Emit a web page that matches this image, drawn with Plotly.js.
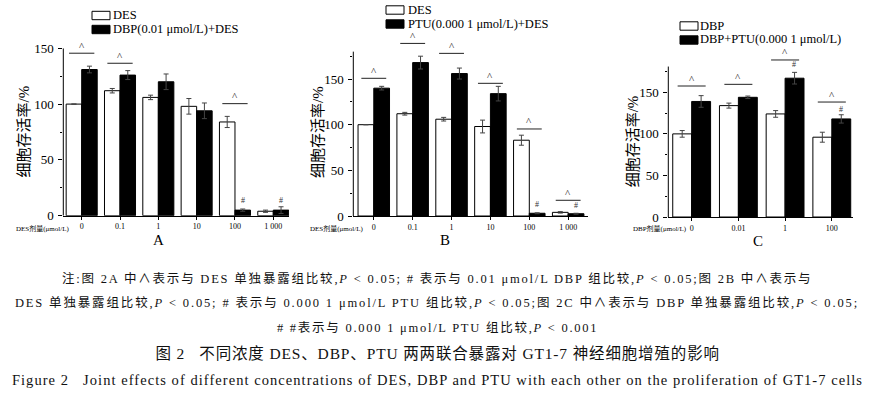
<!DOCTYPE html>
<html>
<head>
<meta charset="utf-8">
<script src="https://cdn.plot.ly/plotly-3.0.1.min.js"></script>
<style>
html,body{margin:0;padding:0;background:#fff;}
#chart{width:892px;height:396px;}
</style>
</head>
<body>
<div id="chart"></div>
<script>
// ---------------- data ----------------
const catsA = ['0', '0.1', '1', '10', '100', '1 000'];
const catsB = ['0', '0.1', '1', '10', '100', '1 000'];
const catsC = ['0', '0.01', '1', '100'];

const desA = [100, 112, 106, 98, 84, 4];
const desAErr = [0, 2, 2, 7, 5, 1];
const dbpDesA = [131, 126, 120, 94, 5, 5];
const dbpDesAErr = [3, 4, 7, 7, 1, 3];

const desB = [100, 112, 106, 98, 83, 4];
const desBErr = [0, 1.5, 2, 7, 5.5, 0.8];
const ptuDesB = [140, 168, 156, 134, 3, 2.5];
const ptuDesBErr = [2, 7, 6, 8, 0.5, 0.5];

const dbpC = [100, 134, 124, 96];
const dbpCErr = [4, 3, 4, 6];
const dbpPtuC = [139, 144, 167, 118];
const dbpPtuCErr = [7, 1.5, 7, 5];

// significance bars (^): category index and level
const sigIdxA = [0, 1, 4];
const sigValA = [145.6, 136.6, 100.4];
const sigIdxB = [0, 1, 2, 3, 4, 5];
const sigValB = [150.8, 189, 178.1, 145.3, 95.3, 17.2];
const sigIdxC = [0, 1, 2, 3];
const sigValC = [157.6, 159.6, 188.9, 138.3];
// # marks: category index and level
const hashIdxA = [4, 5];
const hashValA = [13.2, 13.8];
const hashIdxB = [4, 5];
const hashValB = [12.8, 12];
const hashIdxC = [2, 3];
const hashValC = [183.7, 129.6];

const yTickVals = [0, 50, 100, 150];
const yMinorVals = [25, 75, 125, 175];

// ---------------- layout helpers ----------------
const W = 892, H = 396;
const FX = v => v / W;
const FY = v => 1 - v / H;
const SERIF = "'Liberation Serif', 'Noto Sans CJK SC', serif";
const CJK = "'Liberation Serif', 'Noto Sans CJK SC', sans-serif";

const panels = [
  {xa: 'x', ya: 'y', cats: catsA, s1: desA, e1: desAErr, s2: dbpDesA, e2: dbpDesAErr,
   n1: 'DES', n2: 'DBP(0.01 μmol/L)+DES', sigIdx: sigIdxA, sigVal: sigValA,
   hashIdx: hashIdxA, hashVal: hashValA,
   xdom: [63.3, 289], xr: [-0.48, 5.41], ydom: [215.7, 48.3], yr: [0, 150], axisTop: 150, halfW: 0.33,
   leg: {bx: 92, tx: 112, r1: 15, r2: 29},
   ytitle: {x: 23.5, y: 132}, xlab: {x: 15, y: 228.5, text: 'DES剂量(μmol/L)'}, letter: {x: 158, y: 239.5, t: 'A'}},
  {xa: 'x2', ya: 'y2', cats: catsB, s1: desB, e1: desBErr, s2: ptuDesB, e2: ptuDesBErr,
   n1: 'DES', n2: 'PTU(0.000 1 μmol/L)+DES', sigIdx: sigIdxB, sigVal: sigValB,
   hashIdx: hashIdxB, hashVal: hashValB,
   xdom: [353.3, 588], xr: [-0.527, 5.51], ydom: [216, 35.2], yr: [0, 198], axisTop: 180, halfW: 0.32,
   leg: {bx: 386, tx: 407, r1: 9.5, r2: 23.5},
   ytitle: {x: 318, y: 132}, xlab: {x: 309.3, y: 228.5, text: 'DES剂量(μmol/L)'}, letter: {x: 445, y: 240, t: 'B'}},
  {xa: 'x3', ya: 'y3', cats: catsC, s1: dbpC, e1: dbpCErr, s2: dbpPtuC, e2: dbpPtuCErr,
   n1: 'DBP', n2: 'DBP+PTU(0.000 1 μmol/L)', sigIdx: sigIdxC, sigVal: sigValC,
   hashIdx: hashIdxC, hashVal: hashValC,
   xdom: [668.3, 853.3], xr: [-0.5, 3.46], ydom: [217, 46.6], yr: [0, 205], axisTop: 181, halfW: 0.30,
   leg: {bx: 680, tx: 699, r1: 25.5, r2: 39.5},
   ytitle: {x: 633.3, y: 141}, xlab: {x: 631.7, y: 228.5, text: 'DBP剂量(μmol/L)'}, letter: {x: 758.3, y: 240.5, t: 'C'}}
];

const traces = [];
const shapes = [];
const annotations = [];
const layout = {
  width: W, height: H,
  margin: {l: 0, r: 0, t: 0, b: 0},
  paper_bgcolor: '#ffffff', plot_bgcolor: 'rgba(0,0,0,0)',
  barmode: 'group', bargap: 0.19, bargroupgap: 0,
  showlegend: false,
  font: {family: SERIF, color: '#000'}
};

panels.forEach((p, k) => {
  const idx = p.cats.map((c, i) => i);
  const errStyle = {color: '#444', thickness: 1, width: 2.5, visible: true, type: 'data'};
  traces.push({
    type: 'bar', name: p.n1, x: idx, y: p.s1, xaxis: p.xa, yaxis: p.ya,
    marker: {color: '#ffffff', line: {color: '#000', width: 1}},
    error_y: Object.assign({array: p.e1}, errStyle), hoverinfo: 'y'
  });
  traces.push({
    type: 'bar', name: p.n2, x: idx, y: p.s2, xaxis: p.xa, yaxis: p.ya,
    marker: {color: '#000000', line: {color: '#000', width: 1}},
    error_y: Object.assign({array: p.e2}, errStyle), hoverinfo: 'y'
  });

  const sfx = k === 0 ? '' : String(k + 1);
  layout['xaxis' + sfx] = {
    domain: [FX(p.xdom[0]), FX(p.xdom[1])], range: p.xr, anchor: 'y' + sfx,
    tickmode: 'array', tickvals: idx, ticktext: p.cats,
    showline: true, linecolor: '#000', linewidth: 1,
    ticks: 'outside', ticklen: 3, tickcolor: '#000', tickwidth: 1,
    tickfont: {size: 8, family: SERIF, color: '#000'},
    showgrid: false, zeroline: false, fixedrange: true
  };
  layout['yaxis' + sfx] = {
    domain: [FY(p.ydom[0]), FY(p.ydom[1])], range: p.yr, anchor: 'x' + sfx,
    tickmode: 'array', tickvals: yTickVals,
    showline: false,
    ticks: 'outside', ticklen: 4, tickcolor: '#000', tickwidth: 1,
    ticklabelstandoff: 2,
    tickfont: {size: 13, family: SERIF, color: '#000'},
    minor: {tickmode: 'array', tickvals: yMinorVals, ticks: 'outside', ticklen: 2, tickcolor: '#000', tickwidth: 1, showgrid: false},
    showgrid: false, zeroline: false, fixedrange: true
  };

  // y axis line (ends at the chart's axis top)
  shapes.push({type: 'line', xref: p.xa + ' domain', yref: p.ya, x0: 0, x1: 0, y0: 0, y1: p.axisTop,
    line: {color: '#000', width: 1}});

  // significance lines + ^
  p.sigIdx.forEach((ci, j) => {
    const v = p.sigVal[j];
    shapes.push({type: 'line', xref: p.xa, yref: p.ya, x0: ci - p.halfW, x1: ci + p.halfW, y0: v, y1: v,
      line: {color: '#222', width: 1}});
    annotations.push({xref: p.xa, yref: p.ya, x: ci, y: v, text: '^', showarrow: false,
      yanchor: 'bottom', yshift: 0.5, borderpad: 0, font: {size: 11, family: SERIF, color: '#222'}});
  });
  // # marks
  p.hashIdx.forEach((ci, j) => {
    annotations.push({xref: p.xa, yref: p.ya, x: ci + 0.2, y: p.hashVal[j], text: '#', showarrow: false,
      yanchor: 'middle', borderpad: 0, font: {size: 8, family: SERIF, color: '#333'}});
  });

  // legend swatches and labels
  [[p.leg.r1, '#fff', p.n1], [p.leg.r2, '#000', p.n2]].forEach(([ry, fill, label]) => {
    shapes.push({type: 'rect', xref: 'paper', yref: 'paper', x0: FX(p.leg.bx), x1: FX(p.leg.bx + 18),
      y0: FY(ry - 3.7), y1: FY(ry + 4.7), fillcolor: fill, line: {color: '#000', width: 1}});
    annotations.push({xref: 'paper', yref: 'paper', x: FX(p.leg.tx), y: FY(ry), text: label,
      showarrow: false, xanchor: 'left', yanchor: 'middle', borderpad: 0,
      font: {size: 12.5, family: SERIF, color: '#000'}});
  });

  // y title
  annotations.push({xref: 'paper', yref: 'paper', x: FX(p.ytitle.x), y: FY(p.ytitle.y), text: '细胞存活率/%',
    textangle: -90, showarrow: false, xanchor: 'center', yanchor: 'middle',
    font: {size: 15, family: CJK, color: '#000'}});
  // x label
  annotations.push({xref: 'paper', yref: 'paper', x: FX(p.xlab.x), y: FY(p.xlab.y), text: p.xlab.text,
    showarrow: false, xanchor: 'left', yanchor: 'middle', borderpad: 0, font: {size: 7, family: CJK, color: '#000'}});
  // panel letter
  annotations.push({xref: 'paper', yref: 'paper', x: FX(p.letter.x), y: FY(p.letter.y), text: p.letter.t,
    showarrow: false, xanchor: 'center', yanchor: 'middle', font: {size: 15, family: SERIF, color: '#000'}});
});

// ---------------- caption text ----------------
const NB = '\u00a0';
const noteLines = [
  {t: '注:图 2A 中∧表示与 DES 单独暴露组比较,<i>P</i> &lt; 0.05; # 表示与 0.01 μmol/L DBP 组比较,<i>P</i> &lt; 0.05;图 2B 中∧表示与', y: 278.7, s: 12.5, ls: 1.8},
  {t: 'DES 单独暴露组比较,<i>P</i> &lt; 0.05; # 表示与 0.000 1 μmol/L PTU 组比较,<i>P</i> &lt; 0.05;图 2C 中∧表示与 DBP 单独暴露组比较,<i>P</i> &lt; 0.05;', y: 302.7, s: 12.5, ls: 1.85},
  {t: '# #表示与 0.000 1 μmol/L PTU 组比较,<i>P</i> &lt; 0.001', y: 327.7, s: 12.5, ls: 1.75},
  {t: '图 2' + NB + NB + NB + '不同浓度 DES、DBP、PTU 两两联合暴露对 GT1-7 神经细胞增殖的影响', y: 353.3, s: 15.5, ls: 0.85},
  {t: 'Figure 2' + NB + NB + NB + 'Joint effects of different concentrations of DES, DBP and PTU with each other on the proliferation of GT1-7 cells', y: 380.3, s: 14.5, ls: 1.05}
];
let css = '';
noteLines.forEach(l => {
  css += '.annotation[data-index="' + annotations.length + '"] .annotation-text{letter-spacing:' + l.ls + 'px;}\n';
  annotations.push({xref: 'paper', yref: 'paper', x: FX(437), y: FY(l.y), text: l.t, showarrow: false,
    xanchor: 'center', yanchor: 'middle', font: {size: l.s, family: CJK, color: '#111'}});
});
const st = document.createElement('style');
st.textContent = css;
document.head.appendChild(st);

layout.shapes = shapes;
layout.annotations = annotations;

Plotly.newPlot('chart', traces, layout, {displayModeBar: false, staticPlot: true});
</script>
</body>
</html>
